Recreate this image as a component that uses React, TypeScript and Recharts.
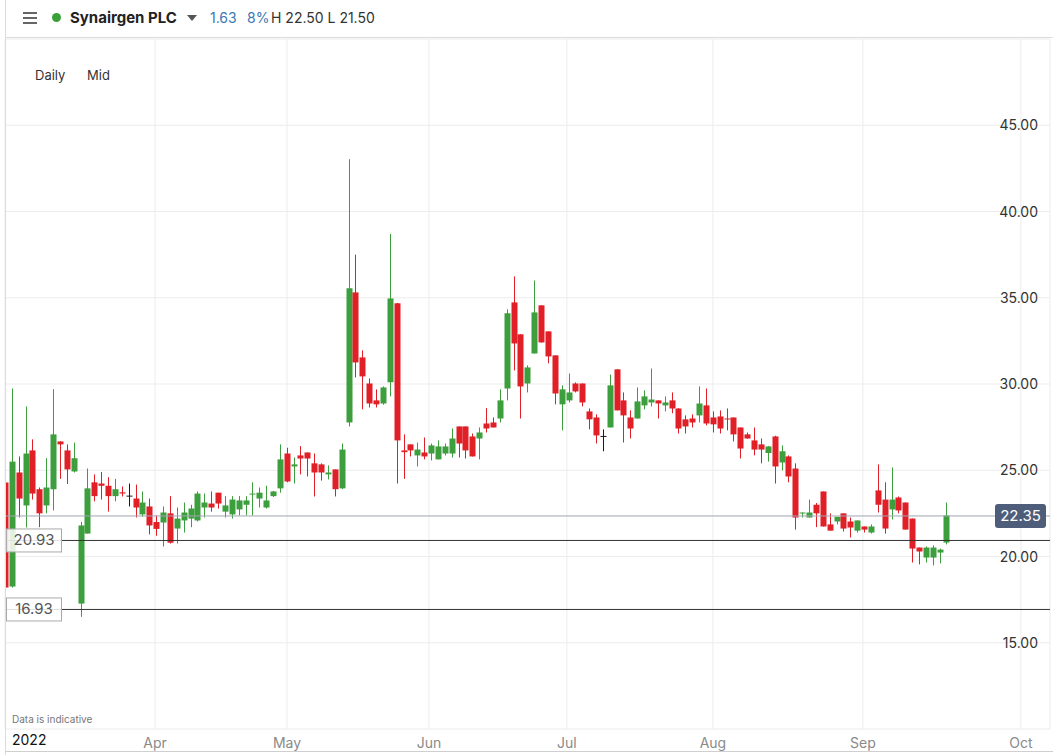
import React from "react"
import { Bar, CartesianGrid, ComposedChart, ReferenceLine, XAxis, YAxis } from "recharts"

// trading-day candles (index 1 = first visible bar, early March 2022)
const opens = [
  24.29, 18.26, 24.87, 22.96, 26.15, 23.9, 22.96, 23.9, 26.67, 26.15,
  24.93, 17.27, 21.33, 24.3, 24.23, 24.1, 23.5, 23.72, 23.5, 23.36,
  22.44, 22.9, 22.0, 21.97, 22.5, 21.62, 22.09, 22.2, 22.09, 22.84,
  23.07, 23.7, 22.6, 22.44, 22.73, 23.0, 23.6, 23.36, 22.84, 23.5,
  23.95, 25.97, 25.22, 25.86, 26.03, 25.4, 25.34, 24.76, 25.05, 23.95,
  27.77, 35.31, 31.54, 30.03, 29.05, 28.87, 30.1, 34.68, 26.15, 26.5,
  25.86, 26.03, 25.97, 25.63, 25.97, 25.97, 27.54, 27.54, 26.96, 26.84,
  27.71, 27.77, 28.0, 29.74, 34.73, 32.88, 30.03, 31.77, 34.56, 33.05,
  31.66, 28.82, 29.05, 30.03, 30.03, 28.41, 28.06, 26.96, 27.48, 30.85,
  29.05, 28.06, 28.0, 28.76, 28.93, 29.05, 28.76, 29.05, 28.58, 27.95,
  28.0, 28.18, 28.76, 28.06, 28.12, 28.0, 28.06, 27.48, 27.08, 26.73,
  26.5, 26.0, 26.96, 25.45, 25.8, 25.1, 22.49, 22.26, 23.0, 23.77,
  21.86, 22.03, 22.5, 22.03, 21.5, 21.74, 21.39, 23.83, 23.3, 22.73,
  23.42, 23.13, 22.2, 20.52, 19.94, 19.94, 20.23, 20.81,
]
const highs = [
  24.3, 29.74, 25.8, 28.7, 26.79, 24.0, 25.7, 29.7, 26.67, 26.5,
  26.6, 22.0, 25.1, 24.76, 24.9, 24.6, 24.5, 24.06, 24.23, 24.17,
  23.77, 23.36, 22.38, 22.9, 23.5, 22.84, 23.13, 23.0, 23.77, 23.65,
  23.77, 23.7, 23.5, 23.5, 23.5, 23.5, 24.3, 24.0, 24.1, 23.8,
  26.5, 26.3, 25.74, 26.4, 26.03, 25.97, 25.4, 25.28, 25.05, 26.55,
  43.03, 37.5, 31.95, 30.32, 29.69, 29.86, 38.7, 34.7, 27.08, 26.5,
  26.6, 26.9, 26.55, 26.73, 26.55, 27.42, 27.54, 27.54, 27.13, 27.48,
  28.6, 28.06, 29.69, 34.33, 36.24, 32.88, 31.08, 36.0, 34.56, 33.05,
  31.66, 29.92, 30.61, 30.09, 30.03, 28.58, 28.24, 27.37, 30.55, 30.85,
  29.51, 28.47, 29.8, 29.63, 30.9, 29.05, 29.28, 29.51, 28.6, 28.18,
  28.24, 29.86, 29.74, 28.41, 28.47, 28.58, 28.06, 27.48, 27.19, 27.48,
  26.84, 26.4, 27.0, 26.44, 25.86, 25.4, 22.55, 23.3, 23.1, 23.77,
  22.5, 22.3, 22.5, 22.26, 22.09, 21.74, 21.86, 25.34, 24.3, 25.16,
  23.48, 23.13, 22.2, 20.52, 20.58, 20.64, 20.46, 23.13,
]
const lows = [
  18.2, 18.2, 22.26, 21.68, 23.3, 21.7, 22.5, 22.67, 24.5, 24.2,
  24.87, 16.5, 21.33, 23.2, 23.3, 22.6, 23.2, 23.48, 22.9, 22.26,
  22.3, 21.28, 21.2, 20.58, 20.75, 20.75, 21.39, 21.7, 22.03, 22.26,
  22.6, 22.78, 22.26, 22.2, 22.38, 22.38, 22.38, 22.84, 22.78, 23.45,
  23.7, 24.3, 24.23, 24.76, 24.64, 23.48, 24.4, 24.47, 23.48, 23.9,
  27.54, 30.38, 28.53, 28.64, 28.64, 28.8, 29.28, 24.23, 24.5, 25.8,
  25.22, 25.63, 25.57, 25.63, 25.86, 25.74, 25.74, 25.68, 25.8, 25.63,
  27.19, 27.48, 27.77, 29.05, 30.79, 28.0, 29.51, 31.77, 32.4, 31.2,
  28.82, 27.31, 28.93, 29.51, 28.7, 27.37, 26.55, 26.1, 27.48, 28.47,
  26.61, 26.84, 28.0, 28.53, 28.7, 28.0, 28.41, 28.3, 27.13, 27.13,
  27.48, 27.77, 27.6, 27.19, 27.13, 27.31, 26.67, 25.68, 26.84, 25.86,
  25.4, 25.5, 24.23, 24.99, 24.3, 21.56, 22.26, 22.26, 21.7, 21.74,
  21.5, 21.86, 21.45, 21.1, 21.39, 21.39, 21.33, 22.55, 21.33, 22.15,
  22.5, 21.56, 19.65, 19.54, 19.65, 19.48, 19.6, 20.7,
]
const closes = [
  18.2, 25.5, 23.36, 25.97, 23.65, 22.5, 24.0, 27.08, 26.5, 25.05,
  25.7, 21.8, 23.95, 23.5, 24.1, 23.5, 23.9, 23.65, 23.5, 22.84,
  23.13, 21.8, 21.6, 22.55, 20.8, 22.2, 22.55, 22.78, 23.65, 23.13,
  22.84, 23.07, 22.96, 23.3, 23.25, 23.25, 23.65, 23.7, 23.25, 23.77,
  25.63, 24.35, 25.34, 25.68, 25.68, 24.87, 24.87, 24.87, 23.9, 26.2,
  35.55, 31.25, 30.44, 28.87, 28.82, 29.8, 34.96, 26.73, 26.05, 26.15,
  26.2, 25.8, 26.44, 26.38, 26.38, 26.84, 26.55, 26.15, 25.8, 27.19,
  27.42, 27.48, 29.05, 34.1, 32.35, 29.86, 30.96, 34.15, 32.41, 31.6,
  29.45, 29.69, 29.51, 29.57, 28.93, 27.95, 27.02, 26.96, 29.92, 28.47,
  28.18, 27.42, 28.99, 29.28, 29.1, 28.87, 28.93, 28.58, 27.42, 27.54,
  27.77, 28.87, 27.71, 27.66, 27.42, 27.95, 27.08, 26.26, 26.84, 26.2,
  26.2, 26.38, 25.22, 26.1, 24.64, 22.26, 22.55, 22.55, 22.5, 21.74,
  21.5, 22.3, 21.62, 21.68, 22.09, 21.56, 21.74, 23.0, 21.62, 23.3,
  22.67, 21.56, 20.46, 20.29, 20.52, 20.52, 20.4, 22.38,
]

const monthTicks = [22.77, 41.97, 62.63, 82.7, 103.95, 125.77, 148.76]
const monthLabels = ["Apr", "May", "Jun", "Jul", "Aug", "Sep", "Oct"]
const priceTicks = [15, 20, 25, 30, 35, 40, 45]

const lastPrice = 22.35
const supportLevels = [20.93, 16.93]

const candles = opens.map((open, i) => ({
  n: i + 1,
  open,
  high: highs[i],
  low: lows[i],
  close: closes[i],
  range: [lows[i], highs[i]],
}))

const GREEN = "#3c9e3c"
const RED = "#e01f26"
const DOJI = "#1a1a1a"
const FONT = "Inter, 'Open Sans', sans-serif"

const Candle = (props: any) => {
  const { x, y, width, height, payload } = props
  const { open, close, high, low } = payload
  const top = Math.min(y, y + height)
  const h = Math.abs(height)
  const k = high > low ? h / (high - low) : 0
  const py = (v: number) => top + (high - v) * k
  const color = close > open ? GREEN : close < open ? RED : DOJI
  const cx = Math.round(x + width / 2) + 0.5
  const bodyTop = py(Math.max(open, close))
  const bodyH = Math.max(1, py(Math.min(open, close)) - bodyTop)
  return (
    <g>
      <line x1={cx} x2={cx} y1={top} y2={top + h} stroke={color} strokeWidth={1} />
      {open === close ? (
        <line x1={cx - 3} x2={cx + 3} y1={bodyTop} y2={bodyTop} stroke={color} strokeWidth={1} />
      ) : (
        <rect x={cx - 3} y={bodyTop} width={6} height={bodyH} fill={color} />
      )}
    </g>
  )
}

const PriceTick = (props: any) => {
  const { x, y, payload } = props
  return (
    <text x={x} y={y} dy={5} textAnchor="end" fill="#333" fontSize={14} fontFamily={FONT}>
      {Number(payload.value).toFixed(2)}
    </text>
  )
}

const MonthTick = (props: any) => {
  const { x, y, payload, index } = props
  return (
    <text x={x} y={y} dy={11} textAnchor="middle" fill="#8a8a8a" fontSize={14} fontFamily={FONT}>
      {monthLabels[index] ?? payload.value}
    </text>
  )
}

const badgeLabel = (value: number) => (props: any) => {
  const vb = props.viewBox
  const right = vb.x + vb.width
  return (
    <g>
      <rect x={right - 55} y={vb.y - 12} width={51} height={24} rx={3} fill="#4d5d7a" />
      <text x={right - 29.5} y={vb.y + 5} textAnchor="middle" fill="#fff" fontSize={15} fontFamily={FONT}>
        {value.toFixed(2)}
      </text>
    </g>
  )
}

const boxLabel = (value: number) => (props: any) => {
  const vb = props.viewBox
  return (
    <g>
      <rect x={vb.x + 1.5} y={vb.y - 11.5} width={55} height={23} fill="rgba(255,255,255,0.85)" stroke="#aaa" />
      <text x={vb.x + 29} y={vb.y + 5} textAnchor="middle" fill="#555" fontSize={15} fontFamily={FONT}>
        {value.toFixed(2)}
      </text>
    </g>
  )
}

export default function App() {
  return (
    <div
      style={{
        position: "fixed",
        left: 0,
        top: 0,
        width: 1053,
        height: 755,
        background: "#fff",
        fontFamily: FONT,
        overflow: "hidden",
      }}
    >
      <ComposedChart width={1053} height={755} data={candles} margin={{ top: 39, right: 3, bottom: 0, left: 5 }}>
        <CartesianGrid stroke="#ececec" />
        <XAxis
          type="number"
          dataKey="n"
          domain={[0.94, 153]}
          ticks={monthTicks}
          interval={0}
          allowDataOverflow
          axisLine={false}
          tickLine={false}
          height={26}
          tick={<MonthTick />}
        />
        <YAxis
          orientation="right"
          type="number"
          domain={[10, 50]}
          ticks={priceTicks}
          mirror
          axisLine={false}
          tickLine={false}
          tickMargin={6}
          tick={<PriceTick />}
        />
        <Bar dataKey="range" barSize={6} shape={<Candle />} isAnimationActive={false} />
        <ReferenceLine y={lastPrice} stroke="#a2a5b4" label={badgeLabel(lastPrice)} />
        {supportLevels.map((v) => (
          <ReferenceLine key={v} y={v} stroke="#333" label={boxLabel(v)} />
        ))}
      </ComposedChart>

      {/* header */}
      <div style={{ position: "absolute", left: 5, top: 0, width: 1048, height: 37, borderBottom: "1px solid #dcdcdc" }} />
      <div style={{ position: "absolute", left: 5, top: 0, width: 1, height: 755, background: "#dcdcdc" }} />
      {[12, 17, 22].map((t) => (
        <div key={t} style={{ position: "absolute", left: 23, top: t, width: 14, height: 2, background: "#666" }} />
      ))}
      <div style={{ position: "absolute", left: 52, top: 13, width: 9, height: 9, borderRadius: 5, background: "#3aa13a" }} />
      <div style={{ position: "absolute", left: 70, top: 8, fontSize: 15, fontWeight: 700, color: "#222" }}>Synairgen PLC</div>
      <svg style={{ position: "absolute", left: 187, top: 15 }} width={11} height={7}>
        <path d="M0 0 L10 0 L5 6 Z" fill="#555" />
      </svg>
      <div style={{ position: "absolute", left: 210, top: 9, fontSize: 14, color: "#3b78b3" }}>1.63</div>
      <div style={{ position: "absolute", left: 247, top: 9, fontSize: 14, color: "#3b78b3" }}>8%</div>
      <div style={{ position: "absolute", left: 271, top: 9, fontSize: 14, color: "#333" }}>H 22.50 L 21.50</div>

      <div style={{ position: "absolute", left: 35, top: 67, fontSize: 13, color: "#333" }}>Daily</div>
      <div style={{ position: "absolute", left: 87, top: 67, fontSize: 13, color: "#333" }}>Mid</div>

      {/* footer */}
      <div style={{ position: "absolute", left: 12, top: 713, fontSize: 10, color: "#777" }}>Data is indicative</div>
      <div style={{ position: "absolute", left: 12, top: 731, fontSize: 14, color: "#111" }}>2022</div>
      <div style={{ position: "absolute", left: 5, top: 751, width: 1048, height: 1, background: "#cfcfcf" }} />
    </div>
  )
}
